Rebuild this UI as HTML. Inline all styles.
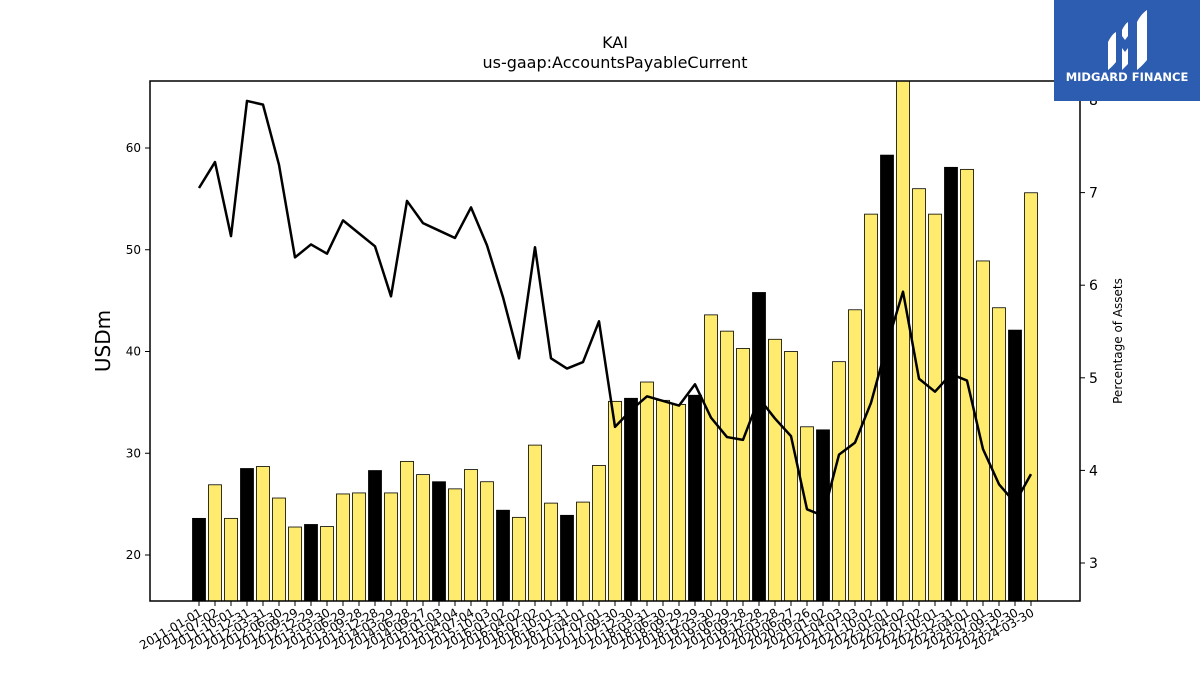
<!DOCTYPE html>
<html><head><meta charset="utf-8"><style>
body{margin:0;background:#fff;}
svg text{font-family:"DejaVu Sans","Liberation Sans",sans-serif;}
</style></head><body>
<svg id="c" width="1200" height="675" xmlns="http://www.w3.org/2000/svg">
<rect width="1200" height="675" fill="#fff"/>
<text x="615" y="48" text-anchor="middle" font-size="16">KAI</text>
<text x="615" y="68" text-anchor="middle" font-size="16">us-gaap:AccountsPayableCurrent</text>
<g id="bars"></g>
<g id="line"></g>
<rect x="150" y="81" width="930" height="520" fill="none" stroke="#000" stroke-width="1.5"/>
<g id="axes"></g>
<text transform="translate(110,341) rotate(-90)" text-anchor="middle" font-size="20">USDm</text>
<text transform="translate(1122,341) rotate(-90)" text-anchor="middle" font-size="12">Percentage of Assets</text>
<g>
<rect x="1054" y="0" width="146" height="101" fill="#2d5db0"/>
<path d="M1108 42 q4-8 8-10 v30 q-4 5-8 8 z" fill="#fff"/>
<path d="M1122 30 q3-6 6-8 v14 l-3 4 l-3-4 z M1122 48 l3 4 l3-4 v16 l-6 6 z" fill="#fff"/>
<path d="M1137 22 q4-8 10-12 v50 q-4 5-10 10 z" fill="#fff"/>
<text x="1127" y="81" text-anchor="middle" font-size="11.5" font-weight="bold" fill="#fff" font-family="Liberation Sans, sans-serif">MIDGARD FINANCE</text>
</g>
</svg>
<script>
const categories=["2011-01-01","2011-07-02","2011-10-01","2011-12-31","2012-03-31","2012-06-30","2012-09-29","2012-12-29","2013-03-30","2013-06-29","2013-09-28","2013-12-28","2014-03-29","2014-06-28","2014-09-27","2015-01-03","2015-04-04","2015-07-04","2015-10-03","2016-01-02","2016-04-02","2016-07-02","2016-10-01","2016-12-31","2017-04-01","2017-07-01","2017-09-30","2017-12-30","2018-03-31","2018-06-30","2018-09-29","2018-12-29","2019-03-30","2019-06-29","2019-09-28","2019-12-28","2020-03-28","2020-06-27","2020-09-26","2021-01-02","2021-04-03","2021-07-03","2021-10-02","2022-01-01","2022-04-02","2022-07-02","2022-10-01","2022-12-31","2023-04-01","2023-07-01","2023-09-30","2023-12-30","2024-03-30"];
const payables=[23.6,26.9,23.6,28.5,28.7,25.6,22.75,23.0,22.8,26.0,26.1,28.3,26.1,29.2,27.9,27.2,26.5,28.4,27.2,24.4,23.7,30.8,25.1,23.9,25.2,28.8,35.1,35.4,37.0,35.2,34.8,35.7,43.6,42.0,40.3,45.8,41.2,40.0,32.6,32.3,39.0,44.1,53.5,59.3,66.8,56.0,53.5,58.1,57.9,48.9,44.3,42.1,55.6];
const pctAssets=[7.05,7.33,6.53,7.99,7.95,7.30,6.30,6.44,6.34,6.70,6.56,6.42,5.88,6.91,6.67,6.59,6.51,6.84,6.43,5.87,5.21,6.41,5.21,5.10,5.17,5.61,4.47,4.65,4.80,4.75,4.70,4.93,4.57,4.36,4.33,4.78,4.56,4.37,3.58,3.51,4.17,4.30,4.73,5.36,5.93,4.99,4.85,5.04,4.97,4.23,3.85,3.65,3.96];
const highlight=[0,3,7,11,15,19,23,27,31,35,39,43,47,51];
const leftTicks=[20,30,40,50,60];
const rightTicks=[3,4,5,6,7,8];
const NS="http://www.w3.org/2000/svg";
const T=81,B=601,L=150,R=1080;
const x=i=>199+i*(1031-199)/(categories.length-1);
const y=v=>555-(v-20)*(555-148)/40;
const y2=v=>563-(v-3)*(563-100)/5;
function mk(tag,attrs,parent){const e=document.createElementNS(NS,tag);for(const k in attrs)e.setAttribute(k,attrs[k]);parent.appendChild(e);return e;}
const bars=document.getElementById('bars'),axes=document.getElementById('axes'),line=document.getElementById('line');
payables.forEach((v,i)=>{const top=Math.max(T,y(v));
 const r=mk('rect',{x:x(i)-6.5,y:top,width:13,height:B-top,fill:highlight.includes(i)?'#000':'#ffec6e',stroke:'#000','stroke-width':0.8},bars);
 
 
 const t=mk('line',{x1:x(i),x2:x(i),y1:B,y2:B+5,stroke:'#000'},axes);
 
 
 const lb=mk('text',{transform:`translate(${x(i)+4},${B+14}) rotate(-30)`,'text-anchor':'end','font-size':12},axes);
 lb.textContent=categories[i];
 
 
});
const pts=pctAssets.map((v,i)=>x(i)+','+y2(v)).join(' ');
const pl=mk('polyline',{points:pts,fill:'none',stroke:'#000','stroke-width':2.5,'stroke-linejoin':'round'},line);


leftTicks.forEach(v=>{const t=mk('line',{x1:L-5,x2:L,y1:y(v),y2:y(v),stroke:'#000'},axes);
 
 
 const lb=mk('text',{x:L-9,y:y(v)+4,'text-anchor':'end','font-size':12},axes);lb.textContent=v;
 
 });
rightTicks.forEach(v=>{const t=mk('line',{x1:R,x2:R+5,y1:y2(v),y2:y2(v),stroke:'#000'},axes);
 
 
 const lb=mk('text',{x:R+9,y:y2(v)+5,'font-size':14},axes);lb.textContent=v;
 
 });
</script>
</body></html>
